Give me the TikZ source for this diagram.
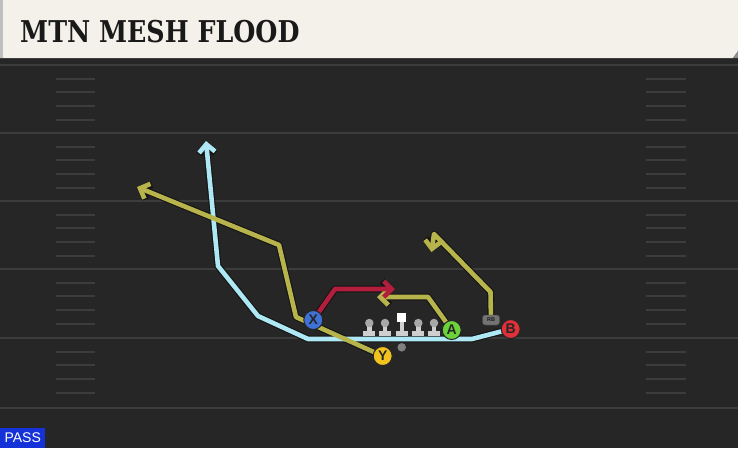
\documentclass[tikz,border=0pt]{standalone}
\usepackage{fontspec}
\usetikzlibrary{arrows.meta}
\newfontfamily\titlefont{DejaVu Serif}
\newfontfamily\labfont{Liberation Sans}
\definecolor{fieldbg}{HTML}{262626}
\definecolor{fieldln}{HTML}{3C3C3C}
\definecolor{hdrbg}{HTML}{F4F1EA}
\definecolor{routeyel}{HTML}{B8B44C}
\definecolor{routeblu}{HTML}{AEE8F4}
\definecolor{routered}{HTML}{B21E3C}
\definecolor{pX}{HTML}{3F72D6}
\definecolor{pY}{HTML}{F2C31F}
\definecolor{pA}{HTML}{6CD23A}
\definecolor{pB}{HTML}{E0303A}
\definecolor{passblue}{HTML}{1532D8}
\definecolor{olgrey}{HTML}{CFCFCF}
\definecolor{olhead}{HTML}{A8A8A8}
\tikzset{
  yardline/.style={draw=fieldln,line width=2pt},
  hashmark/.style={draw=fieldln,line width=1.6pt},
  routeout/.style={draw=black!92,line width=6.8pt,line join=round,line cap=round},
  routein/.style={line width=4.6pt,line join=round,line cap=round},
  tipped/.style={-{Straight Barb[length=8pt,width=16pt]}},
  player/.style={circle,draw=black!85,line width=1pt,minimum size=19pt,inner sep=0pt,font=\labfont\bfseries\fontsize{14}{14}\selectfont,text=black!85},
  rbtag/.style={draw=black!80,fill=black!55,rounded corners=2.5pt,minimum width=17pt,minimum height=10pt,inner sep=0pt,text=black!90,font=\labfont\bfseries\fontsize{5.5}{5.5}\selectfont},
  lineman/.style={fill=olgrey,draw=none},
}
\begin{document}
\begin{tikzpicture}[x=1pt,y=-1pt]
\useasboundingbox (0,0) rectangle (738,448);
% field
\fill[fieldbg] (0,0) rectangle (738,448);
\fill[black!85] (0,57) rectangle (738,64);
\foreach \yy in {65,133,201,269,338,408} {
  \draw[yardline] (0,\yy) -- (738,\yy);
}
\foreach \base in {65,133,201,269,338} {
  \foreach \k in {14,27,41,55} {
    \draw[hashmark] (56,\base+\k) -- (95,\base+\k);
    \draw[hashmark] (646,\base+\k) -- (686,\base+\k);
  }
}
% header
\fill[hdrbg] (0,0) -- (738,0) -- (738,51) -- (733,58) -- (0,58) -- cycle;
\fill[black!25] (0,0) rectangle (3,58);
\fill[black!45] (733,58) -- (738,51) -- (738,58) -- cycle;
\node[anchor=west,inner sep=0pt,text=black!90] (title) at (20,32)
  {\scalebox{0.845}[1]{\titlefont\bfseries\fontsize{30}{30}\selectfont MTN MESH FLOOD}};
% PASS
\node[fill=passblue,anchor=south west,minimum width=45pt,minimum height=20pt,inner sep=0pt,text=white,font=\labfont\fontsize{14}{14}\selectfont] (pass) at (0,448) {PASS};

% players
\node[player,fill=pX] (X) at (313.3,320) {X};
\node[player,fill=pY] (Y) at (382.7,356) {Y};
\node[player,fill=pA] (A) at (451.7,330) {A};
\node[player,fill=pB] (B) at (510.7,329) {B};
\node[rbtag] (RB) at (491,320) {RB};

% route waypoints
\coordinate (b1) at (472,339);
\coordinate (b2) at (308,339);
\coordinate (b3) at (258,316);
\coordinate (b4) at (218,266);
\coordinate (b5) at (206,141);
\coordinate (y1) at (296,317);
\coordinate (y2) at (279,245);
\coordinate (y3) at (137,187);
\coordinate (r1) at (335,289);
\coordinate (r2) at (395,289);
\coordinate (a1) at (428,297);
\coordinate (a2) at (377,297);
\coordinate (g1) at (490.5,292);
\coordinate (g2) at (434,234);
\coordinate (g3) at (431.5,252);

% outlines
\draw[routeout,tipped] (B.center) -- (b1) -- (b2) -- (b3) -- (b4) -- (b5);
\draw[routeout,tipped] (Y.center) -- (y1) -- (y2) -- (y3);
\draw[routeout,tipped] (A.center) -- (a1) -- (a2);
\draw[routeout,tipped] (RB.center) -- (g1) -- (g2) -- (g3);
\draw[routeout,tipped] (X.center) -- (r1) -- (r2);
% colours
\draw[routein,draw=routeblu,tipped] (B.center) -- (b1) -- (b2) -- (b3) -- (b4) -- (b5);
\draw[routein,draw=routeyel,tipped] (Y.center) -- (y1) -- (y2) -- (y3);
\draw[routein,draw=routeyel,tipped] (A.center) -- (a1) -- (a2);
\draw[routein,draw=routeyel,tipped] (RB.center) -- (g1) -- (g2) -- (g3);
\draw[routein,draw=routered,tipped] (X.center) -- (r1) -- (r2);

% linemen
\foreach \lx/\nm in {369.3/lt,385/lg,418.3/rg,434/rt} {
  \fill[lineman] (\lx-6,330.5) rectangle (\lx+6,336);
  \fill[lineman] (\lx-2.2,323) rectangle (\lx+2.2,331);
  \node[circle,fill=olhead,draw=none,minimum size=8.5pt,inner sep=0pt] (\nm) at (\lx,323) {};
}
\fill[lineman] (401.7-6,330.5) rectangle (401.7+6,336);
\fill[lineman] (401.7-2.2,321) rectangle (401.7+2.2,331);
\node[fill=white,draw=none,minimum size=9pt,inner sep=0pt] (C) at (401.7,317.5) {};
\node[circle,fill=black!50,minimum size=8.5pt,inner sep=0pt] (ball) at (401.7,347.3) {};

% players on top
\node[player,fill=pX] at (X) {X};
\node[player,fill=pY] at (Y) {Y};
\node[player,fill=pA] at (A) {A};
\node[player,fill=pB] at (B) {B};
\node[rbtag] at (RB) {RB};
\end{tikzpicture}
\end{document}
